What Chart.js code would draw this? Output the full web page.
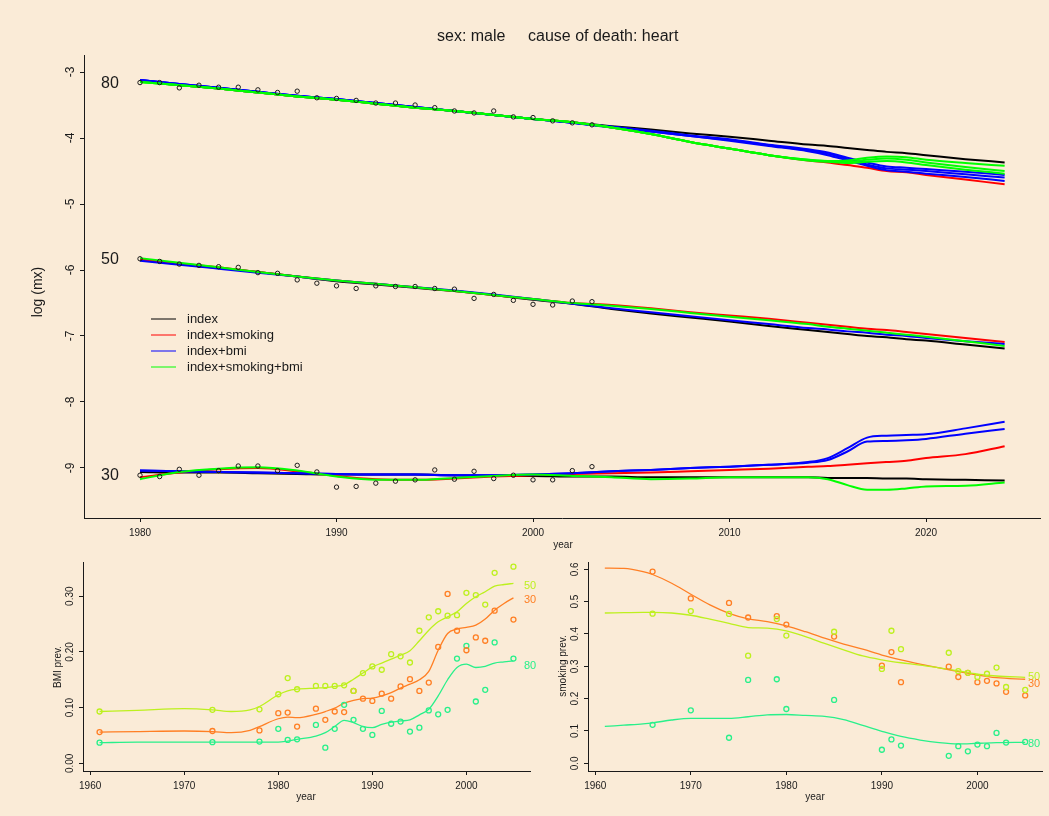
<!DOCTYPE html>
<html>
<head>
<meta charset="utf-8">
<script src="https://cdn.jsdelivr.net/npm/chart.js@4.4.1/dist/chart.umd.min.js"></script>
<style>
body { margin: 0; background: #faebd7; }
#wrap { position: relative; width: 1049px; height: 816px; }
canvas { position: absolute; left: 0; top: 0; }
</style>
</head>
<body>
<div id="wrap">
  <canvas id="mainChart" width="1049" height="816"></canvas>
  <canvas id="bmiChart" width="1049" height="816"></canvas>
  <canvas id="smkChart" width="1049" height="816"></canvas>
</div>
<script>
// observed log death rates
const obsYears = [1980,1981,1982,1983,1984,1985,1986,1987,1988,1989,1990,1991,1992,1993,1994,1995,1996,1997,1998,1999,2000,2001,2002,2003];
const obs80 = [-3.16,-3.16,-3.24,-3.20,-3.23,-3.23,-3.27,-3.31,-3.29,-3.39,-3.40,-3.43,-3.47,-3.47,-3.50,-3.54,-3.59,-3.62,-3.59,-3.68,-3.69,-3.74,-3.77,-3.80];
const obs50 = [-5.83,-5.87,-5.91,-5.93,-5.95,-5.96,-6.04,-6.05,-6.15,-6.20,-6.24,-6.28,-6.24,-6.25,-6.25,-6.28,-6.29,-6.43,-6.37,-6.46,-6.52,-6.53,-6.47,-6.48];
const obs30 = [-9.11,-9.13,-9.02,-9.11,-9.04,-8.97,-8.97,-9.04,-8.96,-9.06,-9.29,-9.28,-9.23,-9.20,-9.18,-9.03,-9.17,-9.05,-9.16,-9.11,-9.18,-9.18,-9.04,-8.98];

// fitted / projected curves
const fitYears = [1980,1982,1984,1986,1988,1990,1992,1994,1996,1998,2000,2002,2004,2006,2008,2010,2012,2014,2015,2016,2017,2018,2019,2020,2022,2024];

const idx80 = [-3.14,-3.20,-3.25,-3.31,-3.37,-3.42,-3.48,-3.54,-3.59,-3.65,-3.71,-3.76,-3.82,-3.87,-3.93,-3.98,-4.04,-4.10,-4.12,-4.15,-4.18,-4.21,-4.23,-4.26,-4.32,-4.37];
const smk80 = [-3.14,-3.20,-3.25,-3.31,-3.37,-3.42,-3.48,-3.54,-3.59,-3.65,-3.71,-3.76,-3.84,-3.94,-4.06,-4.16,-4.26,-4.34,-4.37,-4.41,-4.45,-4.50,-4.52,-4.56,-4.63,-4.70];
const bmi80a = [-3.12,-3.18,-3.24,-3.30,-3.36,-3.41,-3.47,-3.53,-3.59,-3.65,-3.71,-3.77,-3.83,-3.89,-3.96,-4.02,-4.10,-4.17,-4.22,-4.30,-4.37,-4.43,-4.45,-4.47,-4.51,-4.56];
const bmi80b = [-3.12,-3.18,-3.24,-3.30,-3.36,-3.41,-3.47,-3.53,-3.59,-3.65,-3.71,-3.77,-3.83,-3.90,-3.97,-4.03,-4.11,-4.19,-4.24,-4.32,-4.40,-4.46,-4.48,-4.50,-4.55,-4.60];
const bmi80c = [-3.12,-3.18,-3.24,-3.30,-3.36,-3.41,-3.47,-3.53,-3.59,-3.65,-3.71,-3.77,-3.84,-3.90,-3.97,-4.04,-4.12,-4.20,-4.26,-4.34,-4.42,-4.49,-4.51,-4.54,-4.59,-4.65];
const sb80a = [-3.15,-3.20,-3.25,-3.31,-3.37,-3.42,-3.48,-3.54,-3.59,-3.65,-3.71,-3.76,-3.84,-3.94,-4.06,-4.16,-4.26,-4.33,-4.35,-4.34,-4.30,-4.28,-4.29,-4.33,-4.38,-4.42];
const sb80b = [-3.15,-3.20,-3.25,-3.31,-3.37,-3.42,-3.48,-3.54,-3.59,-3.65,-3.71,-3.76,-3.84,-3.94,-4.06,-4.16,-4.26,-4.33,-4.35,-4.36,-4.33,-4.31,-4.33,-4.37,-4.44,-4.50];
const sb80c = [-3.15,-3.20,-3.25,-3.31,-3.37,-3.42,-3.48,-3.54,-3.59,-3.65,-3.71,-3.76,-3.84,-3.94,-4.06,-4.16,-4.26,-4.34,-4.36,-4.38,-4.36,-4.35,-4.37,-4.41,-4.48,-4.54];

const idx50 = [-5.85,-5.91,-5.97,-6.03,-6.10,-6.17,-6.22,-6.27,-6.32,-6.38,-6.45,-6.51,-6.59,-6.66,-6.72,-6.78,-6.85,-6.91,-6.94,-6.97,-7.00,-7.02,-7.05,-7.07,-7.13,-7.19];
const smk50 = [-5.84,-5.90,-5.96,-6.03,-6.10,-6.16,-6.21,-6.26,-6.32,-6.38,-6.44,-6.50,-6.53,-6.58,-6.64,-6.69,-6.74,-6.80,-6.83,-6.86,-6.89,-6.91,-6.94,-6.97,-7.03,-7.09];
const bmi50 = [-5.86,-5.92,-5.98,-6.04,-6.10,-6.16,-6.21,-6.26,-6.31,-6.37,-6.44,-6.51,-6.58,-6.64,-6.70,-6.76,-6.82,-6.88,-6.90,-6.93,-6.95,-6.98,-7.00,-7.03,-7.08,-7.12];
const sb50 = [-5.82,-5.89,-5.96,-6.03,-6.10,-6.16,-6.21,-6.26,-6.32,-6.38,-6.44,-6.50,-6.54,-6.59,-6.65,-6.71,-6.76,-6.82,-6.86,-6.89,-6.92,-6.95,-6.98,-7.01,-7.08,-7.15];

const idx30 = [-9.06,-9.07,-9.07,-9.08,-9.09,-9.10,-9.10,-9.10,-9.11,-9.12,-9.12,-9.13,-9.13,-9.14,-9.14,-9.14,-9.14,-9.14,-9.15,-9.15,-9.15,-9.16,-9.16,-9.17,-9.18,-9.19];
const smk30 = [-9.14,-9.07,-9.02,-9.00,-9.05,-9.12,-9.17,-9.18,-9.16,-9.13,-9.11,-9.09,-9.08,-9.07,-9.05,-9.03,-9.01,-8.98,-8.97,-8.95,-8.93,-8.91,-8.89,-8.85,-8.79,-8.67];
const bmi30a = [-9.04,-9.05,-9.06,-9.07,-9.08,-9.09,-9.10,-9.10,-9.11,-9.11,-9.10,-9.08,-9.05,-9.03,-9.00,-8.98,-8.95,-8.91,-8.85,-8.70,-8.54,-8.51,-8.50,-8.49,-8.40,-8.30];
const bmi30b = [-9.04,-9.05,-9.06,-9.07,-9.08,-9.09,-9.10,-9.10,-9.11,-9.11,-9.10,-9.08,-9.05,-9.03,-9.00,-8.98,-8.95,-8.92,-8.88,-8.75,-8.60,-8.59,-8.58,-8.56,-8.48,-8.41];
const sb30 = [-9.17,-9.06,-9.01,-8.99,-9.04,-9.13,-9.18,-9.18,-9.15,-9.12,-9.10,-9.12,-9.14,-9.17,-9.16,-9.14,-9.14,-9.14,-9.17,-9.26,-9.33,-9.33,-9.31,-9.28,-9.27,-9.22];

const mainXTicks = [1980, 1990, 2000, 2010, 2020];
const mainYTicks = [-3, -4, -5, -6, -7, -8, -9];
const legendLabels = ['index', 'index+smoking', 'index+bmi', 'index+smoking+bmi'];
const legendColors = ['#000000', '#ff0000', '#0000ff', '#00ff00'];

// BMI prevalence
const bmiYears = [1961,1973,1978,1980,1981,1982,1984,1985,1986,1987,1988,1989,1990,1991,1992,1993,1994,1995,1996,1997,1998,1999,2000,2001,2002,2003,2005];
const bmiObs50 = [0.093,0.096,0.097,0.124,0.153,0.133,0.139,0.139,0.139,0.140,0.130,0.162,0.174,0.168,0.196,0.192,0.181,0.238,0.262,0.273,0.265,0.266,0.306,0.302,0.285,0.342,0.353];
const bmiObs30 = [0.056,0.058,0.059,0.090,0.091,0.066,0.098,0.078,0.093,0.092,0.130,0.116,0.112,0.125,0.116,0.138,0.151,0.130,0.145,0.209,0.304,0.238,0.203,0.226,0.220,0.274,0.258];
const bmiObs80 = [0.037,0.038,0.039,0.062,0.042,0.043,0.069,0.028,0.062,0.105,0.078,0.062,0.051,0.094,0.071,0.075,0.057,0.064,0.095,0.088,0.096,0.188,0.211,0.111,0.132,0.217,0.188];
const bmiLineYears = [1961,1965,1970,1973,1975,1977,1978,1980,1981,1982,1984,1985,1986,1987,1988,1989,1990,1991,1992,1993,1994,1995,1996,1997,1998,1999,2000,2001,2002,2003,2004,2005];
const bmiFit50 = [0.093,0.095,0.098,0.096,0.093,0.096,0.102,0.123,0.130,0.133,0.135,0.136,0.138,0.141,0.151,0.162,0.173,0.180,0.187,0.194,0.202,0.220,0.239,0.254,0.263,0.272,0.287,0.299,0.308,0.318,0.321,0.323];
const bmiFit30 = [0.056,0.057,0.058,0.057,0.055,0.059,0.066,0.080,0.083,0.082,0.088,0.093,0.099,0.108,0.113,0.116,0.117,0.121,0.127,0.135,0.142,0.150,0.165,0.203,0.233,0.241,0.244,0.248,0.259,0.275,0.287,0.297];
const bmiFit80 = [0.037,0.038,0.038,0.038,0.038,0.038,0.038,0.038,0.040,0.043,0.049,0.055,0.066,0.077,0.073,0.066,0.064,0.070,0.074,0.076,0.078,0.087,0.097,0.121,0.150,0.172,0.178,0.172,0.174,0.180,0.182,0.184];
const bmiYTicks = [0, 0.1, 0.2, 0.3];
const bmiYLabels = ['0.00', '0.10', '0.20', '0.30'];

// smoking prevalence
const smkYears = [1966,1970,1974,1976,1979,1980,1985,1990,1991,1992,1997,1998,1999,2000,2001,2002,2003,2005];
const smkObs30 = [0.593,0.510,0.496,0.451,0.455,0.429,0.392,0.302,0.344,0.251,0.299,0.267,0.280,0.251,0.255,0.247,0.221,0.210];
const smkObs50 = [0.463,0.471,0.462,0.333,0.446,0.395,0.407,0.292,0.410,0.353,0.342,0.285,0.280,0.267,0.277,0.296,0.236,0.227];
const smkObs80 = [0.119,0.164,0.079,0.258,0.260,0.168,0.196,0.042,0.074,0.055,0.023,0.053,0.037,0.058,0.053,0.094,0.064,0.066];
const smkLineYears = [1961,1963,1965,1966,1968,1970,1972,1974,1976,1978,1980,1982,1984,1986,1988,1990,1992,1994,1996,1998,2000,2002,2005];
const smkFit30 = [0.604,0.603,0.593,0.584,0.557,0.523,0.490,0.464,0.447,0.438,0.425,0.407,0.387,0.369,0.353,0.335,0.320,0.307,0.295,0.284,0.273,0.265,0.260];
const smkFit50 = [0.465,0.466,0.467,0.467,0.465,0.458,0.446,0.433,0.420,0.418,0.410,0.392,0.371,0.351,0.332,0.320,0.311,0.304,0.295,0.286,0.276,0.270,0.266];
const smkFit80 = [0.114,0.118,0.122,0.125,0.134,0.139,0.139,0.139,0.144,0.150,0.151,0.148,0.145,0.135,0.117,0.099,0.083,0.072,0.064,0.060,0.062,0.064,0.065];
const smkYTicks = [0, 0.1, 0.2, 0.3, 0.4, 0.5, 0.6];
const smkYLabels = ['0.0', '0.1', '0.2', '0.3', '0.4', '0.5', '0.6'];

const prevXTicks = [1960, 1970, 1980, 1990, 2000];
const ageColors = { 30: '#ff7f24', 50: '#bdf01e', 80: '#28f08a' };

const FONT = '"Liberation Sans", Arial, Helvetica, sans-serif';
const INK = '#1a1a1a';

function pairs(xs, ys) {
    return xs.map((x, i) => ({ x: x, y: ys[i] }));
}

function fitLine(ys, color, order, width) {
    return {
        data: pairs(fitYears, ys),
        borderColor: color,
        borderWidth: width || 2,
        pointRadius: 0,
        fill: false,
        cubicInterpolationMode: 'monotone',
        order: order
    };
}

function obsPoints(xs, ys, color, radius, lw) {
    return {
        data: pairs(xs, ys),
        showLine: false,
        pointRadius: radius,
        pointBorderColor: color,
        pointBackgroundColor: 'rgba(0,0,0,0)',
        pointBorderWidth: lw || 1,
        order: 0
    };
}

function smoothLine(xs, ys, color) {
    return {
        data: pairs(xs, ys),
        borderColor: color,
        borderWidth: 1.3,
        pointRadius: 0,
        fill: false,
        cubicInterpolationMode: 'monotone',
        order: 1
    };
}

function fixedTicks(values) {
    return scale => { scale.ticks = values.map(v => ({ value: v })); };
}

// the scale boxes get a fixed size so the plot area is set by layout padding
function axisOpts(min, max, ticks, horizontal, showLabels) {
    return {
        type: 'linear',
        min: min,
        max: max,
        afterBuildTicks: fixedTicks(ticks),
        afterFit: scale => {
            if (horizontal) scale.height = 24; else scale.width = 0;
        },
        grid: { drawOnChartArea: false, drawTicks: true, tickLength: 4, color: INK, lineWidth: 1 },
        border: { display: true, color: INK, width: 1 },
        ticks: {
            display: showLabels,
            autoSkip: false,
            maxRotation: 0,
            padding: 5,
            color: INK,
            font: { family: FONT, size: 10 },
            callback: v => String(v)
        }
    };
}

// text helpers
function put(ctx, text, x, y, size, align, color) {
    ctx.font = size + 'px ' + FONT;
    ctx.fillStyle = color || INK;
    ctx.textAlign = align || 'center';
    ctx.textBaseline = 'middle';
    ctx.fillText(text, x, y);
}

function putUp(ctx, text, x, y, size) {
    ctx.save();
    ctx.translate(x, y);
    ctx.rotate(-Math.PI / 2);
    put(ctx, text, 0, 0, size, 'center');
    ctx.restore();
}

function yLabels(ctx, scale, values, labels, x, size) {
    values.forEach((v, i) => putUp(ctx, labels[i], x, scale.getPixelForValue(v), size));
}

const mainText = {
    id: 'mainText',
    afterDraw(chart) {
        const ctx = chart.ctx;
        put(ctx, 'sex: male', 437, 37, 16, 'left');
        put(ctx, 'cause of death: heart', 528, 37, 16, 'left');
        yLabels(ctx, chart.scales.y, mainYTicks, mainYTicks.map(String), 71, 12);
        putUp(ctx, 'log (mx)', 38, 292, 14);
        put(ctx, 'year', 563, 545, 10);
        put(ctx, '80', 101, 84, 16, 'left');
        put(ctx, '50', 101, 260, 16, 'left');
        put(ctx, '30', 101, 476, 16, 'left');
        legendLabels.forEach((lab, i) => {
            const y = 319 + i * 16;
            ctx.strokeStyle = legendColors[i];
            ctx.lineWidth = 1;
            ctx.beginPath();
            ctx.moveTo(151, y);
            ctx.lineTo(176, y);
            ctx.stroke();
            put(ctx, lab, 187, y, 13, 'left');
        });
    }
};

const bmiText = {
    id: 'bmiText',
    afterDraw(chart) {
        const ctx = chart.ctx;
        yLabels(ctx, chart.scales.y, bmiYTicks, bmiYLabels, 70, 10);
        putUp(ctx, 'BMI prev.', 58, 667, 10);
        put(ctx, 'year', 306, 797, 10);
        put(ctx, '50', 524, 586, 11, 'left', ageColors[50]);
        put(ctx, '30', 524, 600, 11, 'left', ageColors[30]);
        put(ctx, '80', 524, 666, 11, 'left', ageColors[80]);
    }
};

const smkText = {
    id: 'smkText',
    afterDraw(chart) {
        const ctx = chart.ctx;
        yLabels(ctx, chart.scales.y, smkYTicks, smkYLabels, 575, 10);
        putUp(ctx, 'smoking prev.', 563, 666, 10);
        put(ctx, 'year', 815, 797, 10);
        put(ctx, '50', 1028, 677, 11, 'left', ageColors[50]);
        put(ctx, '30', 1028, 684, 11, 'left', ageColors[30]);
        put(ctx, '80', 1028, 744, 11, 'left', ageColors[80]);
    }
};

const baseOptions = {
    responsive: false,
    animation: false,
    events: [],
    plugins: { legend: { display: false }, tooltip: { enabled: false } }
};

new Chart(document.getElementById('mainChart'), {
    type: 'line',
    data: {
        datasets: [
            obsPoints(obsYears, obs80, INK, 2.2),
            obsPoints(obsYears, obs50, INK, 2.2),
            obsPoints(obsYears, obs30, INK, 2.2),
            fitLine(idx80, '#000000', 4), fitLine(idx50, '#000000', 4), fitLine(idx30, '#000000', 4),
            fitLine(smk80, '#ff0000', 3), fitLine(smk50, '#ff0000', 3), fitLine(smk30, '#ff0000', 3),
            fitLine(bmi80a, '#0000ff', 2), fitLine(bmi80b, '#0000ff', 2), fitLine(bmi80c, '#0000ff', 2),
            fitLine(bmi50, '#0000ff', 2), fitLine(bmi30a, '#0000ff', 2), fitLine(bmi30b, '#0000ff', 2),
            fitLine(sb80a, '#00ff00', 1), fitLine(sb80b, '#00ff00', 1), fitLine(sb80c, '#00ff00', 1),
            fitLine(sb50, '#00ff00', 1), fitLine(sb30, '#00ff00', 1)
        ]
    },
    options: Object.assign({}, baseOptions, {
        layout: { padding: { left: 84, top: 55, right: 9, bottom: 298 - 24 } },
        scales: {
            x: axisOpts(1977.15, 2025.8, mainXTicks, true, true),
            y: axisOpts(-9.758, -2.742, mainYTicks, false, false)
        }
    }),
    plugins: [mainText]
});

new Chart(document.getElementById('bmiChart'), {
    type: 'line',
    data: {
        datasets: [
            obsPoints(bmiYears, bmiObs50, ageColors[50], 2.5, 1.3),
            obsPoints(bmiYears, bmiObs30, ageColors[30], 2.5, 1.3),
            obsPoints(bmiYears, bmiObs80, ageColors[80], 2.5, 1.3),
            smoothLine(bmiLineYears, bmiFit50, ageColors[50]),
            smoothLine(bmiLineYears, bmiFit30, ageColors[30]),
            smoothLine(bmiLineYears, bmiFit80, ageColors[80])
        ]
    },
    options: Object.assign({}, baseOptions, {
        layout: { padding: { left: 83, top: 562, right: 1049 - 530, bottom: 816 - 771 - 24 } },
        scales: {
            x: axisOpts(1959.24, 2006.76, prevXTicks, true, true),
            y: axisOpts(-0.0138, 0.3614, bmiYTicks, false, false)
        }
    }),
    plugins: [bmiText]
});

new Chart(document.getElementById('smkChart'), {
    type: 'line',
    data: {
        datasets: [
            obsPoints(smkYears, smkObs50, ageColors[50], 2.5, 1.3),
            obsPoints(smkYears, smkObs30, ageColors[30], 2.5, 1.3),
            obsPoints(smkYears, smkObs80, ageColors[80], 2.5, 1.3),
            smoothLine(smkLineYears, smkFit50, ageColors[50]),
            smoothLine(smkLineYears, smkFit30, ageColors[30]),
            smoothLine(smkLineYears, smkFit80, ageColors[80])
        ]
    },
    options: Object.assign({}, baseOptions, {
        layout: { padding: { left: 588, top: 562, right: 1049 - 1042, bottom: 816 - 771 - 24 } },
        scales: {
            x: axisOpts(1959.24, 2006.76, prevXTicks, true, true),
            y: axisOpts(-0.0238, 0.6227, smkYTicks, false, false)
        }
    }),
    plugins: [smkText]
});
</script>
</body>
</html>
